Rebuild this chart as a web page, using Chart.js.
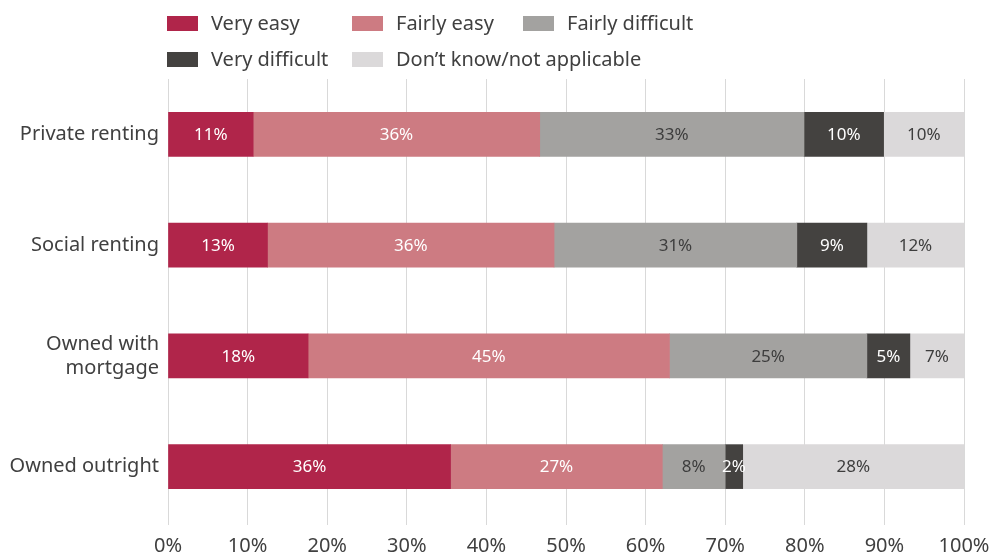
<!DOCTYPE html>
<html>
<head>
<meta charset="utf-8">
<script src="https://cdn.jsdelivr.net/npm/chart.js@4"></script>
<style>
  body { margin: 0; background: #fff; }
  #wrap { position: relative; width: 995px; height: 558px; }
  #legend { position: absolute; left: 0; top: 0; font-family: "Noto Sans", sans-serif; font-size: 20px; color: #404040; }
  .item { position: absolute; white-space: nowrap; line-height: 20px; }
  .box { position: absolute; width: 31px; height: 15px; top: 2px; left: 0; }
  .item span.t { position: absolute; left: 44px; top: -1px; }
</style>
</head>
<body>
<div id="wrap">
  <canvas id="chart" width="995" height="558"></canvas>
  <div id="legend"></div>
</div>
<script>
const categories = ['Private renting', 'Social renting', ['Owned with', 'mortgage'], 'Owned outright'];
const seriesNames = ['Very easy', 'Fairly easy', 'Fairly difficult', 'Very difficult', 'Don\u2019t know/not applicable'];
const veryEasy = [10.7, 12.5, 17.6, 35.5];
const fairlyEasy = [36.0, 36.0, 45.4, 26.6];
const fairlyDifficult = [33.2, 30.5, 24.8, 7.9];
const veryDifficult = [10.0, 8.8, 5.4, 2.2];
const dontKnow = [10.1, 12.2, 6.8, 27.8];
const xTicks = [0, 10, 20, 30, 40, 50, 60, 70, 80, 90, 100];

const colors = ['#b0254a', '#cd7b82', '#a3a2a0', '#444240', '#dbd9da'];
const labelColors = ['#ffffff', '#ffffff', '#3d3d3d', '#ffffff', '#3d3d3d'];
const allSeries = [veryEasy, fairlyEasy, fairlyDifficult, veryDifficult, dontKnow];
const textColor = '#404040';
const font = '"Noto Sans", sans-serif';

// legend (two rows, fixed columns like the original)
const legendPos = [[167, 14], [352, 14], [523, 14], [167, 50], [352, 50]];
const legendEl = document.getElementById('legend');
seriesNames.forEach((name, i) => {
    const item = document.createElement('div');
    item.className = 'item';
    item.style.left = legendPos[i][0] + 'px';
    item.style.top = legendPos[i][1] + 'px';
    item.innerHTML = '<div class="box" style="background:' + colors[i] + '"></div><span class="t">' + name + '</span>';
    legendEl.appendChild(item);
});

// draws the % labels in the middle of each segment
const segmentLabels = {
    id: 'segmentLabels',
    afterDatasetsDraw(chart) {
        const ctx = chart.ctx;
        ctx.save();
        ctx.font = '17px ' + font;
        ctx.textAlign = 'center';
        ctx.textBaseline = 'middle';
        chart.data.datasets.forEach((ds, i) => {
            chart.getDatasetMeta(i).data.forEach((bar, j) => {
                const c = bar.getCenterPoint();
                ctx.fillStyle = labelColors[i];
                ctx.fillText(Math.round(ds.data[j]) + '%', c.x, c.y + 1);
            });
        });
        ctx.restore();
    }
};

new Chart(document.getElementById('chart'), {
    type: 'bar',
    data: {
        labels: categories,
        datasets: allSeries.map((values, i) => ({
            label: seriesNames[i],
            data: values,
            backgroundColor: colors[i],
            borderWidth: 0,
            barThickness: 44
        }))
    },
    options: {
        indexAxis: 'y',
        responsive: false,
        animation: false,
        layout: { padding: { top: 79, right: 31, bottom: 0, left: 0 } },
        plugins: {
            legend: { display: false },
            tooltip: { enabled: false }
        },
        scales: {
            x: {
                stacked: true,
                min: 0,
                max: 100,
                afterBuildTicks: s => { s.ticks = xTicks.map(v => ({ value: v })); },
                afterFit: s => { s.height = 36; s.paddingRight = 0; },
                border: { display: false },
                grid: { color: '#d9d9d9', lineWidth: 1, tickLength: 3 },
                ticks: {
                    color: textColor,
                    font: { family: font, size: 20 },
                    padding: 9,
                    callback: v => v + '%'
                }
            },
            y: {
                stacked: true,
                afterFit: s => { s.width = 168; },
                border: { display: false },
                grid: { display: false },
                ticks: {
                    color: textColor,
                    font: { family: font, size: 20 },
                    padding: 1,
                    lineHeight: 1.1
                }
            }
        }
    },
    plugins: [segmentLabels]
});
</script>
</body>
</html>
